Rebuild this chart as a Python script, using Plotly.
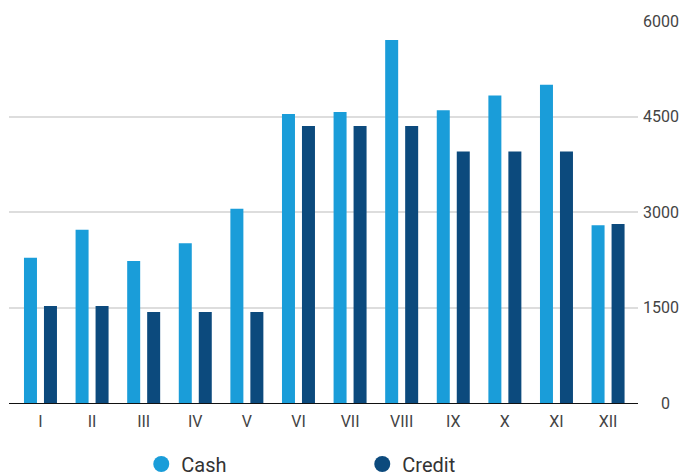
import plotly.graph_objects as go

months = ["I", "II", "III", "IV", "V", "VI", "VII", "VIII", "IX", "X", "XI", "XII"]
cash = [2280, 2720, 2230, 2510, 3050, 4540, 4570, 5700, 4600, 4830, 5000, 2790]
credit = [1525, 1525, 1430, 1430, 1430, 4350, 4350, 4350, 3950, 3950, 3950, 2810]
y_ticks = [0, 1500, 3000, 4500, 6000]
y_tick_labels = ["\u2007\u20070", "1500", "3000", "4500", "6000"]

CASH_COLOR = "#1a9dd9"
CREDIT_COLOR = "#0c4a7d"
FONT = "Roboto"

fig = go.Figure()
fig.add_trace(go.Bar(x=months, y=cash, name="Cash", marker=dict(color=CASH_COLOR, line=dict(width=0)), showlegend=False))
fig.add_trace(go.Bar(x=months, y=credit, name="Credit", marker=dict(color=CREDIT_COLOR, line=dict(width=0)), showlegend=False))
# legend entries with circle symbols
fig.add_trace(go.Scatter(x=[None], y=[None], mode="markers", name="Cash",
                         marker=dict(symbol="circle", size=20, color=CASH_COLOR)))
fig.add_trace(go.Scatter(x=[None], y=[None], mode="markers", name="Credit",
                         marker=dict(symbol="circle", size=20, color=CREDIT_COLOR)))

fig.update_layout(
    width=690, height=473,
    margin=dict(l=9, r=52, t=21, b=70, pad=0, autoexpand=False),
    paper_bgcolor="white", plot_bgcolor="white",
    barmode="group", bargap=0.225, bargroupgap=0.35,
    font=dict(family=FONT, color="#444444", size=16),
    showlegend=True,
    legend=dict(orientation="h", x=0.2103, xanchor="left", xref="paper",
                y=0.019, yanchor="middle", yref="container",
                font=dict(family=FONT, size=20, color="#333333"),
                entrywidth=176, entrywidthmode="pixels", itemsizing="trace",
                bgcolor="rgba(0,0,0,0)"),
    xaxis=dict(type="category", range=[-0.61, 11.58], showgrid=False, zeroline=False,
               showline=True, linecolor="#111111", linewidth=1,
               ticks="", tickfont=dict(size=16, color="#444444"), ticklabelstandoff=4,
               fixedrange=True),
    yaxis=dict(range=[0, 6000], side="right", tickvals=y_ticks, ticktext=y_tick_labels,
               showgrid=True, gridcolor="#dddddd", gridwidth=1.5, zeroline=False,
               showline=False, ticks="", tickfont=dict(size=16, color="#444444"),
               ticklabelstandoff=4, fixedrange=True),
)

fig.write_html("out.html")
